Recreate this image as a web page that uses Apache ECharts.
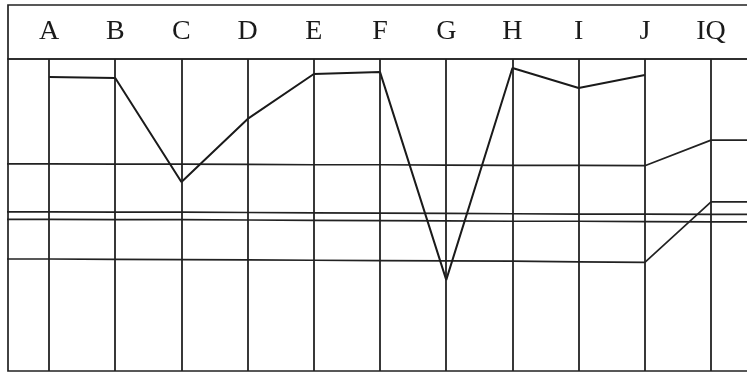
<!DOCTYPE html>
<html><head><meta charset="utf-8">
<script src="https://cdn.jsdelivr.net/npm/echarts@6/dist/echarts.min.js"></script>
<style>html,body{margin:0;padding:0;background:#fff;overflow:hidden}#c{width:747px;height:378px}</style>
</head><body><div id="c"></div>
<script>
// Categories (subtests A..J and IQ)
const categories = ['A','B','C','D','E','F','G','H','I','J','IQ'];
// Profile values for subtests A..J (0..100 chart scale)
const profile = [94.2, 93.9, 60.6, 80.8, 95.2, 95.8, 29.2, 97.1, 90.7, 94.9];
// Reference lines per category (A..J, IQ)
const upperLine = [66.4, 66.3, 66.3, 66.2, 66.1, 66.1, 66.0, 65.9, 65.9, 65.8, 74.0];
const meanHigh  = [51.0, 50.9, 50.9, 50.8, 50.7, 50.6, 50.5, 50.4, 50.3, 50.3, 50.2];
const meanLow   = [48.6, 48.5, 48.5, 48.4, 48.3, 48.2, 48.1, 48.0, 48.0, 47.9, 47.8];
const lowerLine = [35.9, 35.8, 35.7, 35.6, 35.5, 35.4, 35.3, 35.2, 35.0, 34.8, 54.2];

const gridWidth = 780;
const xMin = -0.62, xMax = xMin + gridWidth / 66.2;
const lineColor = '#222222';

function extend(arr) {
  const pts = arr.map((v, i) => [i, v]);
  return [[xMin - 1, arr[0]]].concat(pts, [[xMax + 1, arr[arr.length - 1]]]);
}
function refSeries(arr) {
  return {
    type: 'line', xAxisIndex: 1, yAxisIndex: 1, data: extend(arr),
    symbol: 'none', clip: true, silent: true,
    lineStyle: { color: lineColor, width: 1.7 }
  };
}

const chart = echarts.init(document.getElementById('c'), null, { renderer: 'canvas' });
chart.setOption({
  animation: false,
  backgroundColor: '#fff',
  grid: [
    { left: 8, top: 5, width: gridWidth, height: 54, outerBoundsMode: 'none', containLabel: false, show: true, borderColor: lineColor, borderWidth: 1.7, backgroundColor: 'transparent' },
    { left: 8, top: 59, width: gridWidth, bottom: 7, outerBoundsMode: 'none', containLabel: false, show: true, borderColor: lineColor, borderWidth: 1.7, backgroundColor: 'transparent' }
  ],
  xAxis: [
    { gridIndex: 0, type: 'value', min: xMin, max: xMax, show: false },
    {
      gridIndex: 1, type: 'value', min: xMin, max: xMax, position: 'top',
      axisLine: { show: false }, axisTick: { show: false }, splitLine: { show: false },
      axisLabel: {
        customValues: categories.map((c, i) => i),
        formatter: v => categories[Math.round(v)] || '',
        margin: 27, verticalAlign: 'middle',
        fontFamily: 'Liberation Serif', fontSize: 28, color: '#1a1a1a'
      }
    }
  ],
  yAxis: [
    { gridIndex: 0, type: 'value', min: 0, max: 1, show: false },
    { gridIndex: 1, type: 'value', min: 0, max: 100, show: false }
  ],
  series: [
    {
      type: 'line', xAxisIndex: 1, yAxisIndex: 1, data: [], silent: true,
      markLine: {
        symbol: 'none', silent: true, label: { show: false },
        lineStyle: { color: lineColor, width: 1.8, type: 'solid' },
        data: categories.map((c, i) => ({ xAxis: i }))
      }
    },
    refSeries(upperLine),
    refSeries(meanHigh),
    refSeries(meanLow),
    refSeries(lowerLine),
    {
      type: 'line', xAxisIndex: 1, yAxisIndex: 1,
      data: profile.map((v, i) => [i, v]),
      symbol: 'none', silent: true,
      lineStyle: { color: '#1a1a1a', width: 2 }
    }
  ]
});
</script>
</body></html>
